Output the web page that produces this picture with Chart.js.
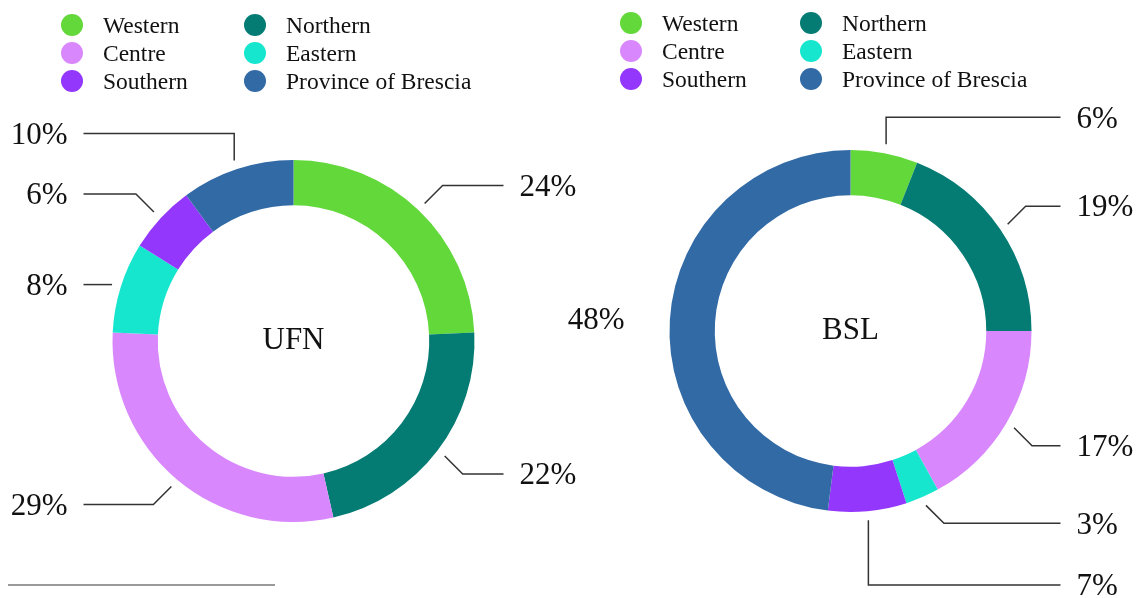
<!DOCTYPE html>
<html>
<head>
<meta charset="utf-8">
<script src="https://cdn.jsdelivr.net/npm/chart.js@4.4.1/dist/chart.umd.min.js"></script>
<style>
  body { margin: 0; background: #fff; font-family: "Liberation Serif", "Times New Roman", serif; }
  #wrap { position: relative; width: 1142px; height: 598px; overflow: hidden; }
  .panel { position: absolute; top: 0; height: 598px; }
  .item { position: absolute; display: flex; align-items: center; height: 28px; font-size: 23.5px; color: #111; white-space: nowrap; }
  .dot { width: 22px; height: 22px; border-radius: 50%; margin-right: 20px; }
  #rule { position: absolute; left: 8px; top: 584px; width: 267px; height: 2px; background: #9a9a9a; }
</style>
</head>
<body>
<div id="wrap">
  <div class="panel" style="left:0;width:620px"><canvas id="ufn" width="620" height="598"></canvas></div>
  <div class="panel" style="left:520px;width:622px"><canvas id="bsl" width="622" height="598"></canvas></div>
  <div id="rule"></div>
</div>
<script>
// datos
const categories = ["Western", "Northern", "Centre", "Eastern", "Southern", "Province of Brescia"];
const ufnValues = [24, 22, 29, 8, 6, 10];
const bslValues = [6, 19, 17, 3, 7, 48];
const colores = ["#62d83a", "#047b73", "#d888fc", "#16e6ce", "#9337fd", "#326aa6"];

// leyenda en html, 2 columnas
function leyenda(x0, y0, colGap) {
  const wrap = document.getElementById('wrap');
  categories.forEach((cat, i) => {
    const col = i % 2, row = Math.floor(i / 2);
    const el = document.createElement('div');
    el.className = 'item';
    el.style.left = (x0 + col * colGap) + 'px';
    el.style.top = (y0 + row * 28 - 14) + 'px';
    el.innerHTML = `<span class="dot" style="background:${colores[i]}"></span>${cat}`;
    wrap.appendChild(el);
  });
}
leyenda(61, 25, 183);
leyenda(620, 23, 180);

// etiquetas con lineas guia + texto central
const callouts = {
  id: 'callouts',
  afterDraw(chart, args, opts) {
    const ctx = chart.ctx;
    const meta = chart.getDatasetMeta(0);
    const values = chart.data.datasets[0].data;
    const labels = chart.data.labels;
    let cx = 0, cy = 0;
    const items = [];
    meta.data.forEach((arc, i) => {
      const p = arc.getProps(['x', 'y', 'startAngle', 'endAngle', 'outerRadius'], true);
      cx = p.x; cy = p.y;
      const mid = (p.startAngle + p.endAngle) / 2;
      const dx = Math.cos(mid), dy = Math.sin(mid);
      const r0 = p.outerRadius + 9;
      const sx = p.x + dx * r0, sy = p.y + dy * r0;
      let ex, ey;
      if (Math.abs(dx) < 0.35) { ex = sx; ey = sy + Math.sign(dy) * 27; }
      else if (Math.abs(dy) < 0.35) { ex = sx; ey = sy; }
      else { ex = sx + Math.sign(dx) * 18; ey = sy + Math.sign(dy) * 18; }
      items.push({ sx, sy, ex, ey, right: dx >= 0, text: values[i] + '%', line: !(opts.noLine || []).includes(labels[i]) });
    });

    // evitar que se encimen: si choca abajo, se va al borde inferior
    [true, false].forEach(side => {
      const list = items.filter(it => it.right === side).sort((a, b) => a.ey - b.ey);
      for (let k = 1; k < list.length; k++) {
        if (list[k].ey - list[k - 1].ey < 30 && list[k].ey > cy) {
          list[k].ey = chart.height - 13;
          list[k].ex = list[k].sx;
        }
      }
    });

    ctx.save();
    ctx.strokeStyle = '#333';
    ctx.lineWidth = 1.5;
    ctx.fillStyle = '#111';
    ctx.font = '31px "Liberation Serif", "Times New Roman", serif';
    ctx.textBaseline = 'middle';
    items.forEach(it => {
      const endX = it.right ? cx + 210 : cx - 210;
      if (it.line) {
        ctx.beginPath();
        ctx.moveTo(it.sx, it.sy);
        ctx.lineTo(it.ex, it.ey);
        ctx.lineTo(endX, it.ey);
        ctx.stroke();
      }
      ctx.textAlign = it.right ? 'left' : 'right';
      ctx.fillText(it.text, it.right ? cx + 226 : cx - 226, it.ey + 2);
    });
    ctx.textAlign = 'center';
    ctx.fillText(opts.center, cx, cy);
    ctx.restore();
  }
};

function dona(id, values, center, padding, noLine) {
  return new Chart(document.getElementById(id), {
    type: 'doughnut',
    data: {
      labels: categories,
      datasets: [{
        data: values,
        backgroundColor: colores,
        borderWidth: 0,
        hoverOffset: 0,
        offset: 0
      }]
    },
    options: {
      responsive: false,
      devicePixelRatio: 1,
      animation: false,
      cutout: '75%',
      layout: { padding: padding },
      plugins: {
        legend: { display: false },
        tooltip: { enabled: false },
        callouts: { center: center, noLine: noLine }
      }
    },
    plugins: [callouts]
  });
}

dona('ufn', ufnValues, 'UFN', { left: 112, right: 145, top: 160, bottom: 76 }, []);
dona('bsl', bslValues, 'BSL', { left: 149, right: 110, top: 150, bottom: 86 }, ["Province of Brescia"]);
</script>
</body>
</html>
